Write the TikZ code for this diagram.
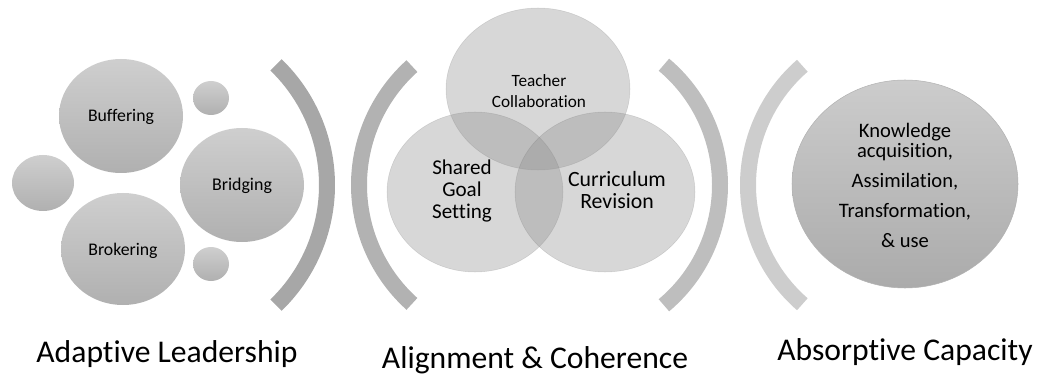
\documentclass[tikz,border=0pt]{standalone}
\usepackage{fontspec}
\setmainfont{Carlito}[RawFeature=-liga]

\definecolor{arcA}{HTML}{A7A7A7}
\definecolor{arcB}{HTML}{B2B2B2}
\definecolor{arcC}{HTML}{BEBEBE}
\definecolor{arcD}{HTML}{CDCDCD}

\begin{document}
\begin{tikzpicture}[x=0.02cm, y=0.02cm,
        bubble/.style={top color=black!19, bottom color=black!31},
        venn/.style={fill=black!45, fill opacity=0.35, draw=black!60, draw opacity=0.2, line width=0.3pt},
        bracket/.style={line width=0.32cm},
        caption/.style={font=\fontsize{18pt}{21pt}\selectfont}]
    \useasboundingbox (0,0) rectangle (1042,-375);

    % left group
    \shade[bubble] (121,-116) ellipse [x radius=62, y radius=57];
    \shade[bubble] (242,-185) ellipse [x radius=62, y radius=57];
    \shade[bubble] (123,-249) ellipse [x radius=62, y radius=56];
    \shade[bubble] (43,-183) ellipse [x radius=31, y radius=28];
    \foreach \y in {98, 264}
        \shade[bubble] (211,-\y) ellipse [x radius=18, y radius=17];
    \node[font=\fontsize{10.1pt}{12pt}\selectfont] (buffering) at (121,-117) {Buffering};
    \node[font=\fontsize{10.2pt}{12pt}\selectfont] (bridging) at (242,-186) {Bridging};
    \node[font=\fontsize{10.1pt}{12pt}\selectfont] (brokering) at (123,-251) {Brokering};

    % brackets
    \draw[bracket, arcA] (160,-185) ++(-46:167) arc [start angle=-46, end angle=46, radius=167];
    \draw[bracket, arcB] (519,-185) ++(132:160) arc [start angle=132, end angle=228, radius=160];
    \draw[bracket, arcC] (563,-185) ++(-50:157) arc [start angle=-50, end angle=50, radius=157];
    \draw[bracket, arcD] (906,-185) ++(131:158) arc [start angle=131, end angle=229, radius=158];

    % venn
    \filldraw[venn] (538,-89) ellipse [x radius=92, y radius=81];
    \filldraw[venn] (475,-192) ellipse [x radius=88, y radius=80];
    \filldraw[venn] (605,-192) ellipse [x radius=90, y radius=80];
    \node[align=center, font=\fontsize{9.8pt}{11.9pt}\selectfont] (teacher) at (539,-91) {Teacher\\Collaboration};
    \node[align=center, font=\fontsize{12pt}{12.8pt}\selectfont] (shared) at (462,-191) {Shared\\Goal\\Setting};
    \node[align=center, font=\fontsize{12.4pt}{12.5pt}\selectfont] (curriculum) at (617,-190) {Curriculum\\Revision};

    % absorptive capacity
    \shade[top color=black!20, bottom color=black!33, draw=black!30, line width=0.3pt] (905,-184) ellipse [x radius=113, y radius=104];
    \node[align=center, font=\fontsize{11.7pt}{11.9pt}\selectfont] (knowledge) at (905,-185)
        {Knowledge\\acquisition,\\[5pt]Assimilation,\\[5pt]Transformation,\\[5pt]\& use};

    % captions
    \node[caption] (adaptive) at (167,-354) {Adaptive Leadership};
    \node[caption] (alignment) at (535,-360) {Alignment \& Coherence};
    \node[caption] (absorptive) at (905,-352) {Absorptive Capacity};
\end{tikzpicture}
\end{document}
